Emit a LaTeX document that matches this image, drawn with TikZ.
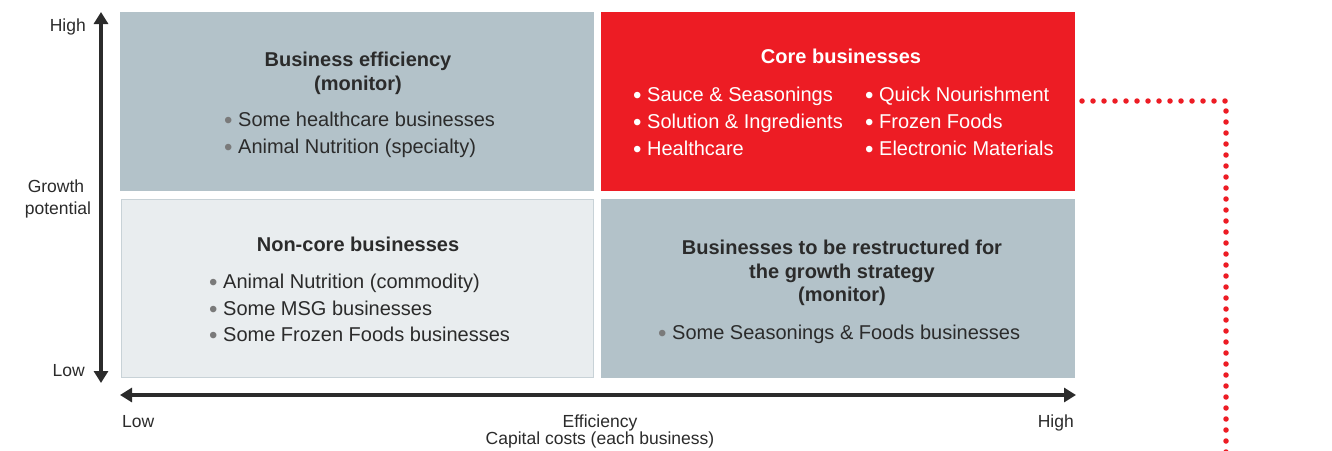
\documentclass[tikz,border=0pt]{standalone}
\usepackage{fontspec}
\setmainfont{Liberation Sans}
\usetikzlibrary{arrows.meta}
\definecolor{boxgray}{HTML}{B3C2C9}
\definecolor{boxred}{HTML}{ED1C24}
\definecolor{boxlight}{HTML}{E9EDEF}
\definecolor{boxedge}{HTML}{C8D2D7}
\definecolor{txt}{HTML}{2B2B2B}
\definecolor{bul}{HTML}{7A7A7A}
\newcommand{\bl}{{\color{bul}\raisebox{-0.2ex}{\scalebox{1.2}{\textbullet}}}\ }
\newcommand{\wbl}{\raisebox{-0.2ex}{\scalebox{1.2}{\textbullet}}\ }
\tikzset{
  quad/.style={rectangle, inner sep=0pt, outer sep=0pt, minimum width=474pt, minimum height=179pt},
  ttl/.style={anchor=base, inner sep=0pt, font=\fontsize{20}{24}\selectfont\bfseries, text=txt},
  itm/.style={anchor=base west, inner sep=0pt, font=\fontsize{20}{24}\selectfont, text=txt},
  axl/.style={inner sep=0pt, font=\fontsize{17.5}{21}\selectfont, text=txt},
  axarrow/.style={line width=3.5pt, {Triangle[width=14pt,length=12pt]}-{Triangle[width=14pt,length=12pt]}, color=txt},
  dotline/.style={draw=boxred, line width=5.5pt, line cap=round, dash pattern=on 0pt off 11pt}
}
\begin{document}
\begin{tikzpicture}[x=1pt,y=-1pt]
\useasboundingbox (0,0) rectangle (1332,450);
\fill[white] (0,0) rectangle (1332,450);
% quadrants
\node[quad, fill=boxgray] (tl) at (357,101.5) {};
\node[quad, fill=boxred] (tr) at (837.5,101.5) {};
\node[quad, fill=boxlight, draw=boxedge, line width=1pt, minimum width=472pt, minimum height=178pt] (bl) at (357,288.5) {};
\node[quad, fill=boxgray] (br) at (837.5,288.5) {};
% top-left
\node[ttl] (tlt1) at (358,66) {Business efficiency};
\node[ttl] (tlt2) at (358,90) {(monitor)};
\node[itm] (tli1) at (224,126) {\bl Some healthcare businesses};
\node[itm] (tli2) at (224,153) {\bl Animal Nutrition (specialty)};
% top-right
\node[ttl, text=white] (trt1) at (841,63) {Core businesses};
\node[itm, text=white] (tri1) at (633,101) {\wbl Sauce \& Seasonings};
\node[itm, text=white] (tri2) at (633,128) {\wbl Solution \& Ingredients};
\node[itm, text=white] (tri3) at (633,155) {\wbl Healthcare};
\node[itm, text=white] (tri4) at (865,101) {\wbl Quick Nourishment};
\node[itm, text=white] (tri5) at (865,128) {\wbl Frozen Foods};
\node[itm, text=white] (tri6) at (865,155) {\wbl Electronic Materials};
% bottom-left
\node[ttl] (blt1) at (358,251) {Non-core businesses};
\node[itm] (bli1) at (209,288) {\bl Animal Nutrition (commodity)};
\node[itm] (bli2) at (209,315) {\bl Some MSG businesses};
\node[itm] (bli3) at (209,341) {\bl Some Frozen Foods businesses};
% bottom-right
\node[ttl] (brt1) at (842,254) {Businesses to be restructured for};
\node[ttl] (brt2) at (842,278) {the growth strategy};
\node[ttl] (brt3) at (842,301) {(monitor)};
\node[itm] (bri1) at (658,339) {\bl Some Seasonings \& Foods businesses};
% axes
\coordinate (vtop) at (101,12);
\coordinate (vbot) at (101,383);
\draw[axarrow] (vbot) -- (vtop);
\coordinate (hleft) at (120,395);
\coordinate (hright) at (1076,395);
\draw[axarrow] (hleft) -- (hright);
\node[axl, anchor=base east] (yhigh) at (86,31) {High};
\node[axl, anchor=base east] (ylow) at (85,376) {Low};
\node[axl, anchor=base] (ylab1) at (56,192) {Growth};
\node[axl, anchor=base] (ylab2) at (58,214) {potential};
\node[axl, anchor=base west] (xlow) at (122,427) {Low};
\node[axl, anchor=base] (xlab1) at (600,427) {Efficiency};
\node[axl, anchor=base] (xlab2) at (600,444) {Capital costs (each business)};
\node[axl, anchor=base east] (xhigh) at (1074,427) {High};
% dotted red connector
\coordinate (dstart) at (1082,101);
\coordinate (dcorner) at (1226,101);
\coordinate (dend) at (1226,455);
\draw[dotline] (dstart) -- (dcorner) -- (dend);
\end{tikzpicture}
\end{document}
